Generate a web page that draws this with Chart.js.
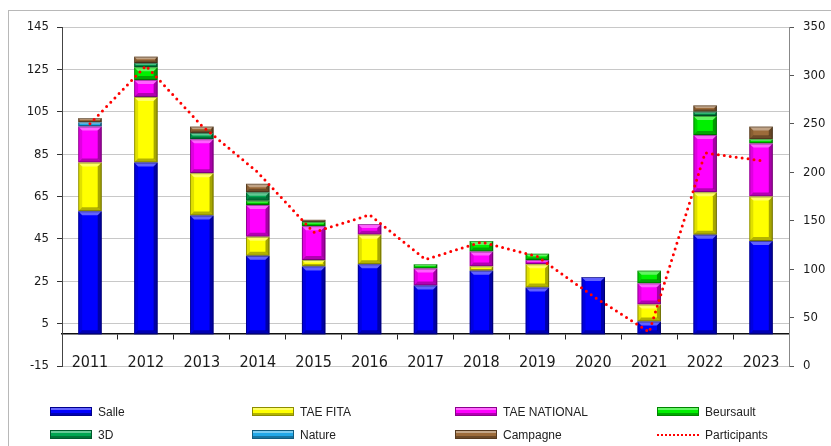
<!DOCTYPE html>
<html lang="fr">
<head>
<meta charset="UTF-8">
<title>Participants par année</title>
<style>
    html, body { margin: 0; padding: 0; background: #fff; overflow: hidden; }
    #wrap { position: relative; width: 831px; height: 446px; }
    #frame {
        position: absolute; left: 8px; top: 10px; width: 900px; height: 500px;
        border: 1px solid #b8b8b8; box-sizing: border-box;
    }
    #chartBox { position: absolute; left: 0; top: 0; width: 831px; height: 446px; }
    .legend {
        position: absolute; left: 0; top: 0;
        font-family: 'Liberation Sans', Arial, sans-serif; font-size: 12px; color: #222;
    }
    .item { position: absolute; height: 14px; line-height: 14px; white-space: nowrap; }
    .item .sw {
        display: inline-block; width: 40px; height: 7px; margin-right: 6px; vertical-align: middle;
        border: 1px solid rgba(0,0,0,0.45); margin-top: -2px;
        box-shadow: inset 0 2px 0 rgba(255,255,255,0.4), inset 0 -2px 0 rgba(0,0,0,0.3);
    }
    .item .ln {
        display: inline-block; width: 42px; height: 0; margin-right: 6px; vertical-align: middle;
        border-top: 2px dotted #ff0000; margin-top: -2px;
    }
</style>
</head>
<body>
<div id="wrap">
    <div id="frame"></div>
    <div id="chartBox"><canvas id="myChart"></canvas></div>
    <div class="legend" id="legend"></div>
</div>

<script src="https://cdn.jsdelivr.net/npm/chart.js"></script>
<script>
    // données
    const annees = ['2011', '2012', '2013', '2014', '2015', '2016', '2017', '2018', '2019', '2020', '2021', '2022', '2023'];
    const salle       = [58, 81, 56, 37, 32, 33, 23, 30, 22, 27, 6, 47, 44];
    const taeFita     = [23, 31, 20, 9, 3, 14, 0, 2, 11, 0, 8, 20, 21];
    const taeNational = [17, 8, 16, 15, 16, 5, 8, 7, 2, 0, 10, 27, 25];
    const beursault   = [0, 6, 0, 2, 2, 0, 2, 5, 3, 0, 6, 9, 2];
    const troisD      = [0, 2, 3, 4, 0, 0, 0, 0, 0, 0, 0, 2, 0];
    const nature      = [2, 0, 0, 0, 0, 0, 0, 0, 0, 0, 0, 0, 0];
    const campagne    = [2, 3, 3, 4, 1, 0, 0, 0, 0, 0, 0, 3, 6];
    const participants = [250, 310, 248, 200, 138, 156, 110, 128, 113, 72, 35, 220, 212];

    const series = [
        { label: 'Salle', data: salle, color: '#0000ff' },
        { label: 'TAE FITA', data: taeFita, color: '#ffff00' },
        { label: 'TAE NATIONAL', data: taeNational, color: '#ff00ff' },
        { label: 'Beursault', data: beursault, color: '#00f000' },
        { label: '3D', data: troisD, color: '#00a651' },
        { label: 'Nature', data: nature, color: '#22a8e8' },
        { label: 'Campagne', data: campagne, color: '#9c6b3a' }
    ];

    // petit effet "biseau" façon Excel sur chaque segment
    function poly(ctx, pts, fill) {
        ctx.beginPath();
        ctx.moveTo(pts[0][0], pts[0][1]);
        for (let i = 1; i < pts.length; i++) ctx.lineTo(pts[i][0], pts[i][1]);
        ctx.closePath();
        ctx.fillStyle = fill;
        ctx.fill();
    }

    const bevel = {
        id: 'bevel',
        afterDatasetDraw(chart, args) {
            const meta = args.meta;
            if (meta.type !== 'bar') return;
            const ctx = chart.ctx;
            ctx.save();
            meta.data.forEach(bar => {
                const p = bar.getProps(['x', 'y', 'base', 'width'], true);
                const top = Math.min(p.y, p.base), bot = Math.max(p.y, p.base);
                const h = bot - top;
                if (h < 0.5) return;
                const l = p.x - p.width / 2, r = p.x + p.width / 2;
                const b = Math.min(4, h / 2.5, p.width / 4);
                poly(ctx, [[l, top], [r, top], [r - b, top + b], [l + b, top + b]], 'rgba(255,255,255,0.38)');
                poly(ctx, [[l, top], [l + b, top + b], [l + b, bot - b], [l, bot]], 'rgba(0,0,0,0.12)');
                poly(ctx, [[r, top], [r - b, top + b], [r - b, bot - b], [r, bot]], 'rgba(0,0,0,0.35)');
                poly(ctx, [[l, bot], [l + b, bot - b], [r - b, bot - b], [r, bot]], 'rgba(0,0,0,0.3)');
                ctx.strokeStyle = 'rgba(0,0,0,0.35)';
                ctx.lineWidth = 1;
                ctx.strokeRect(l + 0.5, top + 0.5, p.width - 1, h - 1);
            });
            ctx.restore();
        }
    };

    const datasets = series.map(s => ({
        type: 'bar',
        label: s.label,
        data: s.data,
        backgroundColor: s.color,
        borderWidth: 0,
        yAxisID: 'y',
        order: 1,
        barPercentage: 0.42,
        categoryPercentage: 1
    }));

    datasets.push({
        type: 'line',
        label: 'Participants',
        data: participants,
        yAxisID: 'y1',
        borderColor: '#ff0000',
        borderWidth: 3,
        borderDash: [0, 6],
        borderCapStyle: 'round',
        pointRadius: 0,
        tension: 0,
        fill: false,
        order: 0
    });

    Chart.defaults.font.family = "'DejaVu Sans Condensed', 'DejaVu Sans', sans-serif";
    Chart.defaults.color = '#1a1a1a';

    const ctx = document.getElementById('myChart');

    new Chart(ctx, {
        data: { labels: annees, datasets: datasets },
        options: {
            responsive: true,
            maintainAspectRatio: false,
            animation: false,
            layout: { padding: { left: 8, right: 0, top: 27, bottom: 80 } },
            plugins: {
                legend: { display: false },
                tooltip: { enabled: false }
            },
            scales: {
                x: {
                    stacked: true,
                    position: { y: 0 },
                    offset: true,
                    grid: { drawOnChartArea: false, offset: true, tickLength: 5, tickColor: '#222' },
                    border: { color: '#111', width: 1.5 },
                    ticks: { font: { size: 16 }, padding: 14, maxRotation: 0 }
                },
                y: {
                    stacked: true,
                    position: 'left',
                    min: -15,
                    max: 145,
                    ticks: { stepSize: 20, font: { size: 13 }, padding: 8 },
                    grid: { color: '#c8c8c8', tickColor: '#333', tickLength: 5 },
                    border: { color: '#444' },
                    afterFit(scale) { scale.width = 54; }
                },
                y1: {
                    position: 'right',
                    min: 0,
                    max: 350,
                    ticks: { stepSize: 50, font: { size: 13 }, padding: 9 },
                    grid: { drawOnChartArea: false, tickColor: '#555', tickLength: 5 },
                    border: { color: '#888' },
                    afterFit(scale) { scale.width = 42; }
                }
            }
        },
        plugins: [bevel]
    });

    // légende HTML en 4 colonnes comme l'original
    const cols = [50, 252, 455, 657];
    const rows = [405, 428];
    const legendItems = series.map(s => ({ label: s.label, color: s.color })).concat([{ label: 'Participants', line: true }]);
    const leg = document.getElementById('legend');
    legendItems.forEach((it, i) => {
        const d = document.createElement('div');
        d.className = 'item';
        d.style.left = cols[i % 4] + 'px';
        d.style.top = rows[Math.floor(i / 4)] + 'px';
        const sw = document.createElement('span');
        if (it.line) {
            sw.className = 'ln';
        } else {
            sw.className = 'sw';
            sw.style.background = it.color;
        }
        d.appendChild(sw);
        d.appendChild(document.createTextNode(it.label));
        leg.appendChild(d);
    });
</script>
</body>
</html>
